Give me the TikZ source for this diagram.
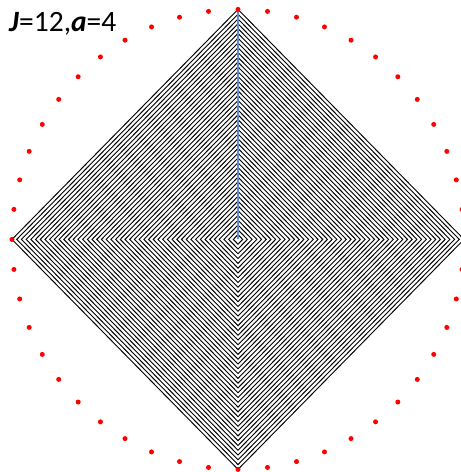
\documentclass[tikz,border=0pt]{standalone}
\usepackage{fontspec}
\setmainfont{Carlito}
\definecolor{dotred}{RGB}{255,0,0}
\definecolor{axisblue}{RGB}{100,140,205}
\begin{document}
\begin{tikzpicture}[x=1pt,y=1pt,
  diam/.style={black, line width=0.95pt, line join=miter},
  axisline/.style={axisblue, line width=2pt},
  reddot/.style={circle, fill=dotred, inner sep=0pt, minimum size=5pt},
  label/.style={anchor=base west, inner sep=0pt, font=\fontsize{29.5}{31}\selectfont}]
\useasboundingbox (0,0) rectangle (461,472);
\clip (0,0) rectangle (461,472);
\begin{scope}[shift={(238,232.6)}, x=226pt, y=230pt]
  \coordinate (c) at (0,0);
  \coordinate (top) at (0,1);
  \foreach \k in {1,...,48}{
    \pgfmathsetmacro{\r}{\k/48}
    \draw[diam] (0,\r) -- (\r,0) -- (0,-\r) -- (-\r,0) -- cycle;
  }
  \draw[axisline] (c) -- (top);
  \foreach \i in {0,...,47}{
    \pgfmathsetmacro{\ang}{7.5*\i}
    \node[reddot] (d\i) at ({sin(\ang)},{cos(\ang)}) {};
  }
\end{scope}
\node[label] (lbl) at (9,440) {\textbf{\textit{J}}=12,\textbf{\textit{a}}=4};
\end{tikzpicture}
\end{document}
